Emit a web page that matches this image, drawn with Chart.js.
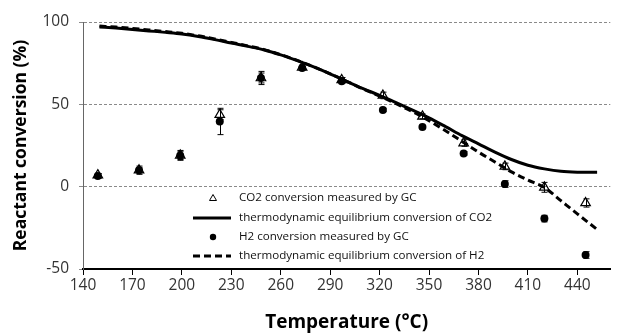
<!DOCTYPE html>
<html>
<head>
<meta charset="utf-8">
<script src="https://cdn.jsdelivr.net/npm/chart.js@4.4.1/dist/chart.umd.min.js"></script>
<style>
html,body{margin:0;padding:0;background:#fff;}
#wrap{width:617px;height:334px;position:relative;}
</style>
</head>
<body>
<div id="wrap"><canvas id="c" width="617" height="334"></canvas></div>
<script>
// ---- data ----
const measTemps = [149, 174, 199, 223, 248, 273, 297, 322, 346, 371, 396, 420, 445];
const co2Measured = [7, 10, 19, 43.7, 66, 72.5, 64.8, 55.4, 42.7, 26.5, 12.3, -0.4, -9.9];
const co2Error = [1, 2.5, 2.5, 3, 3, 1.5, 1.5, 2, 1.5, 2, 2, 3, 2.5];
const h2Measured = [6.5, 10, 19, 39.6, 66, 72, 64, 46.6, 36.2, 20.2, 1.6, -19.4, -41.5];
const h2Error = [1.5, 1.5, 3, 8, 4, 1, 1, 1, 1, 1, 2, 2, 2];

const eqTemps = [150,160,170,180,190,200,210,220,230,240,250,260,270,280,290,300,310,320,330,340,350,360,370,380,390,400,410,420,430,440,452];
const co2Equilibrium = [97,96.3,95.5,94.6,93.7,92.7,91.2,89.3,87.2,85.2,83,80,76.5,72.7,68.5,64,59.5,55.5,51,46.5,41.8,36.5,31,26,21,16.5,13,10.8,9.3,8.8,8.7];
const h2Equilibrium = [97.5,96.9,96.1,95.2,94.2,93.1,91.6,89.7,87.6,85.5,83.2,80.2,76.7,72.8,68.5,64,59.3,55,50.4,45.5,40,34,27.5,21,15,9,4,-0.5,-8.5,-16.5,-26];

const xTicks = [140, 170, 200, 230, 260, 290, 320, 350, 380, 410, 440];
const yTicks = [-50, 0, 50, 100];

const seriesLabels = [
  'CO2 conversion measured by GC',
  'thermodynamic equilibrium conversion of CO2',
  'H2 conversion measured by GC',
  'thermodynamic equilibrium conversion of H2'
];
const xTitle = 'Temperature (°C)';
const yTitle = 'Reactant conversion (%)';

const pts = (xs, ys) => xs.map((x, i) => ({x: x, y: ys[i]}));
const FONT = "'Open Sans', sans-serif";

// error bars plugin
const errorBars = {
  id: 'errorBars',
  afterDatasetsDraw(chart) {
    const {ctx, scales: {x, y}} = chart;
    ctx.save();
    ctx.strokeStyle = '#000';
    ctx.lineWidth = 1;
    chart.data.datasets.forEach((ds) => {
      if (!ds.errors) return;
      ds.data.forEach((p, i) => {
        const e = ds.errors[i];
        const px = Math.round(x.getPixelForValue(p.x)) + 0.5;
        const y1 = y.getPixelForValue(p.y + e);
        const y2 = y.getPixelForValue(p.y - e);
        ctx.beginPath();
        ctx.moveTo(px, y1); ctx.lineTo(px, y2);
        ctx.moveTo(px - 3, y1); ctx.lineTo(px + 3, y1);
        ctx.moveTo(px - 3, y2); ctx.lineTo(px + 3, y2);
        ctx.stroke();
      });
    });
    ctx.restore();
  }
};

// legend drawn inside the plot area; rows follow legendOrder (dataset indices)
const legendOrder = [2, 0, 3, 1];
const insideLegend = {
  id: 'insideLegend',
  afterDraw(chart) {
    const {ctx} = chart;
    const rows = [198, 218, 237, 256];
    const symX = 213, lineX1 = 193, lineX2 = 231, textX = 239;
    ctx.save();
    ctx.font = "11.6px " + FONT;
    ctx.textBaseline = 'middle';
    ctx.textAlign = 'left';
    legendOrder.forEach((di, r) => {
      const ds = chart.data.datasets[di];
      const yy = rows[r];
      ctx.strokeStyle = '#000';
      ctx.fillStyle = '#000';
      if (ds.showLine === false) {
        ctx.beginPath();
        ctx.lineWidth = 1;
        if (ds.pointStyle === 'triangle') {
          ctx.moveTo(symX, yy - 3.5); ctx.lineTo(symX + 3.5, yy + 2.5); ctx.lineTo(symX - 3.5, yy + 2.5); ctx.closePath();
          ctx.stroke();
        } else {
          ctx.arc(symX, yy, 3.2, 0, Math.PI * 2);
          ctx.fill();
        }
      } else {
        ctx.beginPath();
        ctx.lineWidth = 3;
        ctx.setLineDash(ds.borderDash || []);
        ctx.moveTo(lineX1, yy); ctx.lineTo(lineX2, yy);
        ctx.stroke();
        ctx.setLineDash([]);
      }
      ctx.fillStyle = '#111';
      ctx.fillText(ds.label, textX, yy);
    });
    ctx.restore();
  }
};

new Chart(document.getElementById('c'), {
  type: 'scatter',
  data: {
    datasets: [
      { // 0: CO2 equilibrium
        label: seriesLabels[1], data: pts(eqTemps, co2Equilibrium), showLine: true,
        borderColor: '#000', borderWidth: 3, pointRadius: 0, cubicInterpolationMode: 'monotone', fill: false
      },
      { // 1: H2 equilibrium
        label: seriesLabels[3], data: pts(eqTemps, h2Equilibrium), showLine: true,
        borderColor: '#000', borderWidth: 3, borderDash: [7, 4], pointRadius: 0, cubicInterpolationMode: 'monotone', fill: false
      },
      { // 2: CO2 measured
        label: seriesLabels[0], data: pts(measTemps, co2Measured), showLine: false, errors: co2Error,
        pointStyle: 'triangle', pointRadius: 5.5, borderColor: '#000', borderWidth: 1.2, backgroundColor: 'rgba(255,255,255,0)'
      },
      { // 3: H2 measured
        label: seriesLabels[2], data: pts(measTemps, h2Measured), showLine: false, errors: h2Error,
        pointStyle: 'circle', pointRadius: 4, borderColor: '#000', borderWidth: 0, backgroundColor: '#000'
      }
    ]
  },
  options: {
    responsive: false,
    animation: false,
    layout: {padding: {top: 22, right: 0, left: 0, bottom: 0}},
    plugins: {legend: {display: false}, tooltip: {enabled: false}},
    scales: {
      x: {
        type: 'linear', min: 140, max: 460,
        afterBuildTicks: (s) => { s.ticks = xTicks.map(v => ({value: v})); },
        afterFit: (s) => { s.height = 65; },
        grid: {drawOnChartArea: false, drawTicks: true, tickLength: 6, color: '#000', lineWidth: 1},
        border: {display: true, color: '#000', width: 2},
        ticks: {font: {family: FONT, size: 15.5}, color: '#333', padding: 1, maxRotation: 0, autoSkip: false},
        title: {display: true, text: xTitle, font: {family: FONT, size: 19, weight: 'bold'}, color: '#000', padding: {top: 0, bottom: 0}}
      },
      y: {
        type: 'linear', min: -50, max: 100,
        afterBuildTicks: (s) => { s.ticks = yTicks.map(v => ({value: v})); },
        afterFit: (s) => { s.width = 83; },
        grid: {drawOnChartArea: true, drawTicks: true, tickLength: 4, color: '#8a8a8a', lineWidth: 1},
        border: {display: true, color: '#666', width: 1, dash: [3, 2]},
        ticks: {font: {family: FONT, size: 15.5}, color: '#333', padding: 10},
        title: {display: true, text: yTitle, font: {family: FONT, size: 17.5, weight: 'bold'}, color: '#000', padding: {top: 11, bottom: 0}}
      }
    }
  },
  plugins: [errorBars, insideLegend]
});
</script>
</body>
</html>
